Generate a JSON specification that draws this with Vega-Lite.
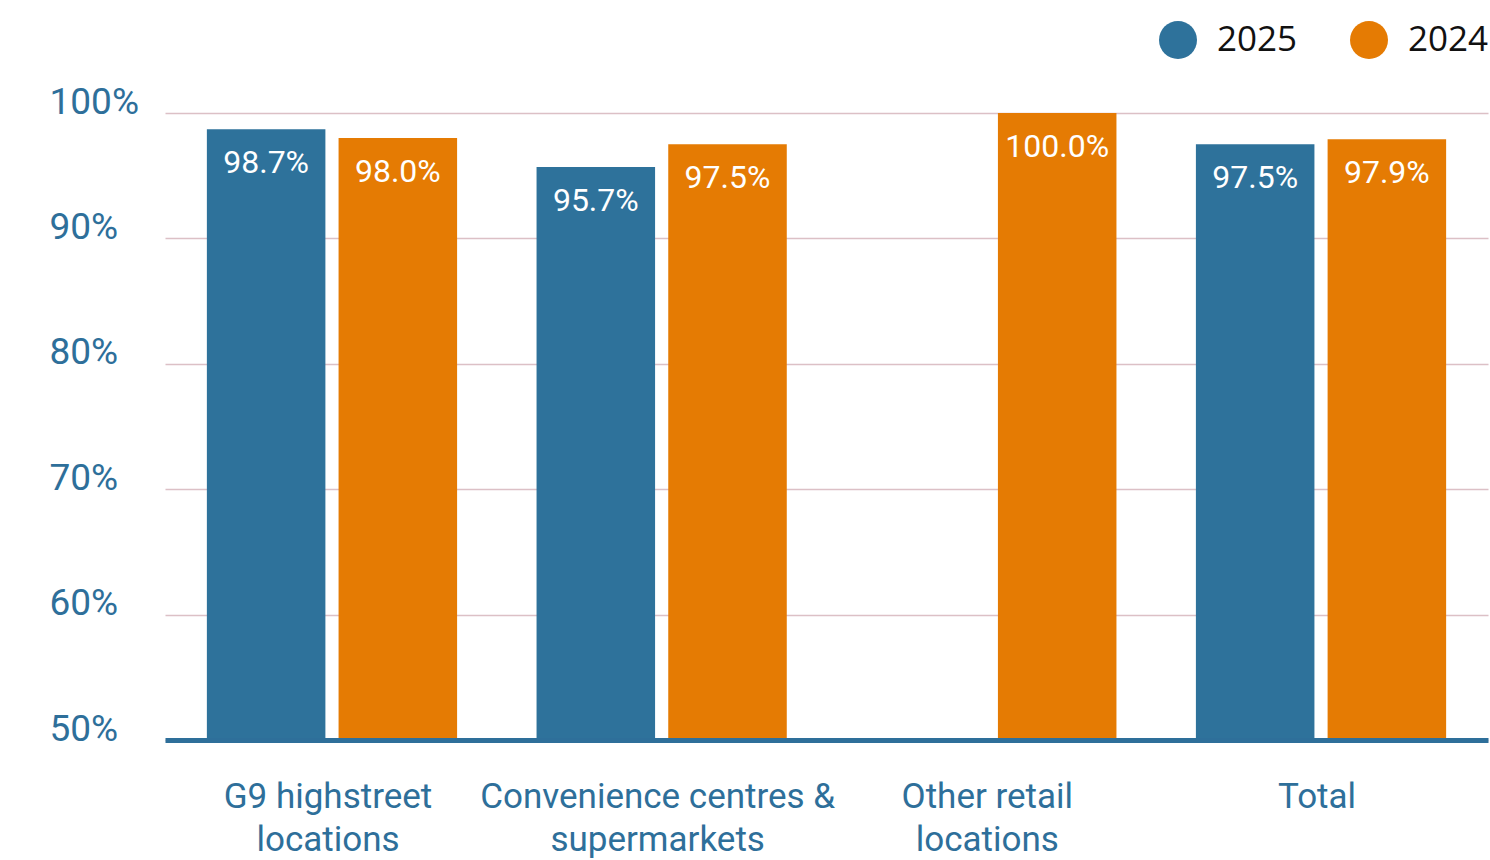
{
  "$schema": "https://vega.github.io/schema/vega-lite/v6.json",
  "autosize": "none",
  "width": 1323,
  "height": 627,
  "padding": {"left": 165, "top": 113, "right": 2, "bottom": 120},
  "background": "white",
  "config": {
    "view": {"stroke": null},
    "font": "Roboto"
  },
  "data": {
    "values": [
      {"category": "G9 highstreet locations", "year": "2025", "value": 0.987},
      {"category": "G9 highstreet locations", "year": "2024", "value": 0.980},
      {"category": "Convenience centres & supermarkets", "year": "2025", "value": 0.957},
      {"category": "Convenience centres & supermarkets", "year": "2024", "value": 0.975},
      {"category": "Other retail locations", "year": "2024", "value": 1.000},
      {"category": "Total", "year": "2025", "value": 0.975},
      {"category": "Total", "year": "2024", "value": 0.979}
    ]
  },
  "encoding": {
    "x": {
      "field": "category",
      "type": "nominal",
      "sort": null,
      "title": null,
      "scale": {"paddingInner": 0.241, "paddingOuter": 0.127},
      "axis": {
        "labelAngle": 0,
        "ticks": false,
        "labelFont": "Roboto",
        "labelFontSize": 35,
        "labelColor": "#2e6f9a",
        "labelPadding": 39,
        "labelBaseline": "top",
        "labelLineHeight": 43,
        "labelLimit": 500,
        "labelOffset": -4,
        "domainColor": "#2e6f9a",
        "domainWidth": 5,
        "labelExpr": "datum.label == 'G9 highstreet locations' ? ['G9 highstreet', 'locations'] : datum.label == 'Convenience centres & supermarkets' ? ['Convenience centres &', 'supermarkets'] : datum.label == 'Other retail locations' ? ['Other retail', 'locations'] : datum.label",
        "zindex": 2
      }
    },
    "xOffset": {
      "field": "year",
      "type": "nominal",
      "scale": {"domain": ["2025", "2024"], "paddingInner": 0.1, "paddingOuter": 0}
    }
  },
  "layer": [
    {
      "mark": {"type": "bar"},
      "encoding": {
        "y": {
          "field": "value",
          "type": "quantitative",
          "title": null,
          "scale": {"domain": [0.5, 1.0], "zero": false, "nice": false},
          "axis": {
            "values": [0.5, 0.6, 0.7, 0.8, 0.9, 1.0],
            "format": ".0%",
            "ticks": false,
            "domain": false,
            "labelFont": "Roboto",
            "labelFontSize": 37,
            "labelColor": "#2e6f9a",
            "labelAlign": "left",
            "labelBaseline": "alphabetic",
            "labelPadding": 116,
            "gridColor": "#dcc0c6",
            "gridWidth": 1.5
          }
        },
        "y2": {"datum": 0.5},
        "color": {
          "field": "year",
          "type": "nominal",
          "scale": {"domain": ["2025", "2024"], "range": ["#2e729b", "#e57b03"]},
          "legend": {
            "title": null,
            "orient": "none",
            "direction": "horizontal",
            "legendX": 994,
            "legendY": -92,
            "padding": 0,
            "symbolType": "circle",
            "symbolSize": 1444,
            "symbolStrokeWidth": 0,
            "labelFont": "Open Sans",
            "labelFontSize": 35,
            "labelColor": "#111111",
            "labelOffset": 20,
            "columnPadding": 52
          }
        }
      }
    },
    {
      "mark": {"type": "text", "color": "white", "fontSize": 32, "font": "Roboto", "baseline": "middle", "dy": 34},
      "encoding": {
        "y": {"field": "value", "type": "quantitative"},
        "text": {"field": "value", "type": "quantitative", "format": ".1%"}
      }
    }
  ]
}
